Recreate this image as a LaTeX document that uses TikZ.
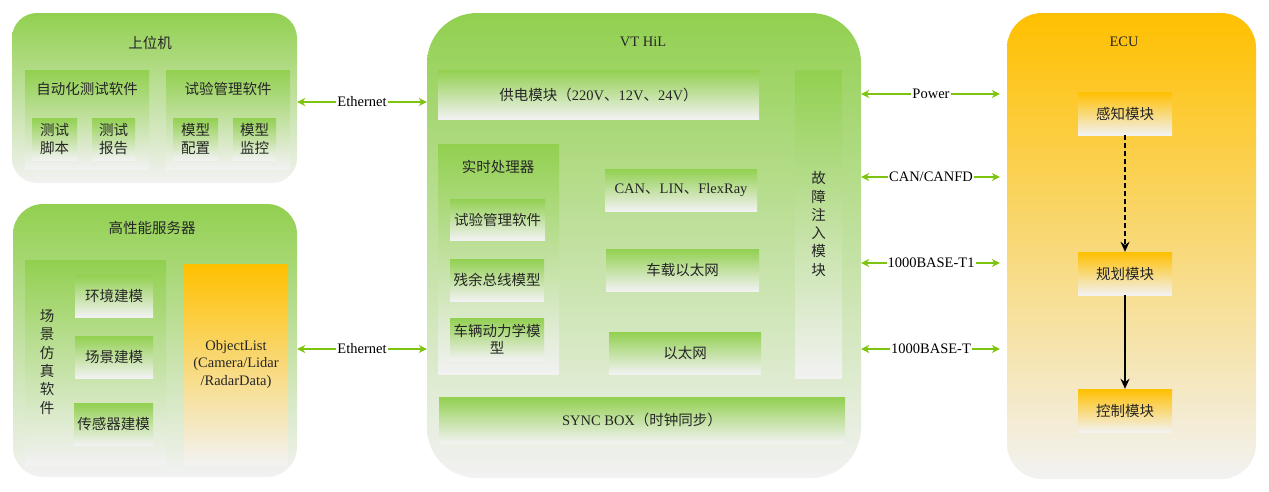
\documentclass[tikz,border=0pt]{standalone}
\usepackage{fontspec}
\setmainfont{Liberation Serif}
\newfontfamily\cjk{Noto Sans CJK SC}
\usepackage{tikz}
\usetikzlibrary{arrows.meta, calc}
\definecolor{hilgreen}{HTML}{92D050}
\definecolor{fadegrey}{HTML}{F2F2F2}
\definecolor{ecuorange}{HTML}{FFC000}
\definecolor{linkgreen}{HTML}{7DC40F}

\begin{document}
\fontsize{14.5}{17.5}\selectfont
\begin{tikzpicture}[x=1pt, y=-1pt]
\tikzset{
  sz/.style 2 args={minimum width=#1pt,minimum height=#2pt,inner sep=0pt},
  outer/.style={rectangle,rounded corners=#1,top color=hilgreen,bottom color=fadegrey},
  gbox/.style={rectangle,top color=hilgreen,bottom color=fadegrey,align=center,font=\cjk,text=black!85},
  obox/.style={rectangle,top color=ecuorange,bottom color=fadegrey,align=center,font=\cjk,text=black!85},
  ttl/.style={text=black!85,inner sep=1pt},
  vtxt/.style={text=black!85,align=center,font=\cjk\fontsize{14.5}{18.3}\selectfont},
  lab/.style={fill=white,inner sep=1pt,text=black},
  link/.style={{Stealth[length=8pt,width=8pt]}-{Stealth[length=8pt,width=8pt]},draw=linkgreen,line width=1.3pt},
  flow/.style={-{Stealth[length=10pt,width=9pt]},draw=black,line width=2pt}
}
\useasboundingbox (0,0) rectangle (1269,491);
% ---- 上位机
\node[outer=25pt,sz={285}{170}] (pc) at (154.5,98) {};
\node[ttl,font=\cjk] (pct) at (150,43) {上位机};
\node[gbox,sz={124}{99}] (auto) at (87,119.5) {};
\node[ttl,font=\cjk] (autot) at (87,89) {自动化测试软件};
\node[gbox,sz={45}{42}] (sjb) at (54.5,139) {测试\\脚本};
\node[gbox,sz={43}{42}] (sbg) at (113.5,139) {测试\\报告};
\node[gbox,sz={124}{99}] (mgmt) at (228,119.5) {};
\node[ttl,font=\cjk] (mgmtt) at (228,89) {试验管理软件};
\node[gbox,sz={45}{42}] (mpz) at (195.5,139) {模型\\配置};
\node[gbox,sz={43}{42}] (mjk) at (254.5,139) {模型\\监控};
% ---- 高性能服务器
\node[outer=30pt,sz={284}{273}] (srv) at (155,340.5) {};
\node[ttl,font=\cjk] (srvt) at (152,228) {高性能服务器};
\node[gbox,sz={141}{205}] (sim) at (95.5,362.5) {};
\node[vtxt] (simt) at (47,362) {场\\景\\仿\\真\\软\\件};
\node[gbox,sz={78}{42}] (hj) at (114,296) {环境建模};
\node[gbox,sz={78}{42}] (cj) at (114,357) {场景建模};
\node[gbox,sz={79}{42}] (cgq) at (113.5,424) {传感器建模};
\node[obox,sz={104}{201},font=\rmfamily] (obj) at (236,364.5) {ObjectList\\(Camera/Lidar\\/RadarData)};
% ---- VT HiL
\node[outer=50pt,sz={434}{465}] (hil) at (644,245.5) {};
\node[ttl] (hilt) at (643,42) {VT HiL};
\node[gbox,sz={321}{49}] (gd) at (598.5,94.5) {供电模块（\rmfamily 220V{\cjk 、}12V{\cjk 、}24V{\cjk ）}};
\node[gbox,sz={121}{230}] (rt) at (498.5,259) {};
\node[ttl,font=\cjk] (rtt) at (498,167) {实时处理器};
\node[gbox,sz={95}{41}] (sy) at (497.5,219.5) {试验管理软件};
\node[gbox,sz={94}{42}] (cy) at (497,280) {残余总线模型};
\node[gbox,sz={94}{42}] (cl) at (497,339) {车辆动力学模\\型};
\node[gbox,sz={152}{42},font=\rmfamily] (can) at (681,190) {CAN{\cjk 、}LIN{\cjk 、}FlexRay};
\node[gbox,sz={153}{42}] (cz) at (682.5,270) {车载以太网};
\node[gbox,sz={152}{42}] (yt) at (685,353) {以太网};
\node[gbox,sz={47}{308},vtxt] (fi) at (818.5,224) {故\\障\\注\\入\\模\\块};
\node[gbox,sz={406}{46},font=\rmfamily] (sync) at (642,420) {SYNC BOX{\cjk （时钟同步）}};
% ---- ECU
\node[outer=35pt,top color=ecuorange,sz={249}{466}] (ecu) at (1131.5,246) {};
\node[ttl] (ecut) at (1124,42) {ECU};
\node[obox,sz={94}{43}] (gz) at (1125,113.5) {感知模块};
\node[obox,sz={94}{43}] (gh) at (1125,273.5) {规划模块};
\node[obox,sz={94}{43}] (kz) at (1125,410.5) {控制模块};
% ---- arrows
\draw[link] (pc.east |- 0,102) -- node[lab]{Ethernet} (hil.west |- 0,102);
\draw[link] (srv.east |- 0,349) -- node[lab]{Ethernet} (hil.west |- 0,349);
\draw[link,shorten >=7pt] (hil.east |- 0,94) -- node[lab,xshift=-3pt]{Power} (ecu.west |- 0,94);
\draw[link,shorten >=7pt] (hil.east |- 0,177) -- node[lab,xshift=-3pt]{CAN/CANFD} (ecu.west |- 0,177);
\draw[link,shorten >=7pt] (hil.east |- 0,263) -- node[lab,xshift=-3pt]{1000BASE-T1} (ecu.west |- 0,263);
\draw[link,shorten >=7pt] (hil.east |- 0,349) -- node[lab,xshift=-3pt]{1000BASE-T} (ecu.west |- 0,349);
\draw[flow,dash pattern=on 5pt off 3pt] (gz.south) -- (gh.north);
\draw[flow] (gh.south) -- (kz.north);
\end{tikzpicture}
\end{document}
